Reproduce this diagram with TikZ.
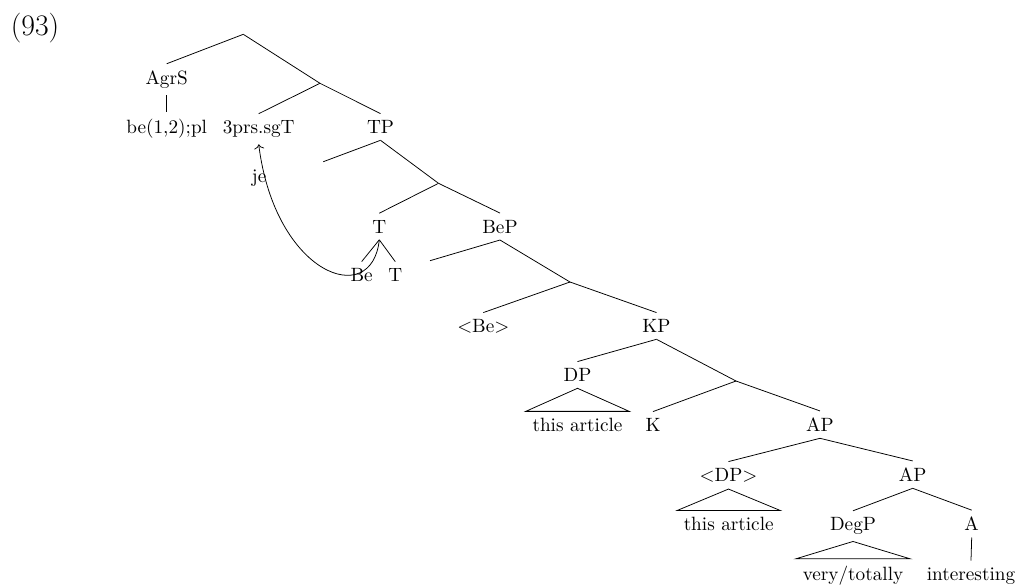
\documentclass[tikz,border=0pt]{standalone}
\usepackage{tikz}
\usetikzlibrary{arrows.meta}
\tikzset{
  lbl/.style={anchor=base},
  br/.style={line width=0.4pt},
  mv/.style={-{To},line width=0.4pt},
}

\begin{document}
\begin{tikzpicture}[x=0.52pt,y=-0.52pt]
\useasboundingbox (0,0) rectangle (1018,585);
\node (ex) at (35,28) {\fontsize{15.5}{18}\selectfont(93)};
% labelled nodes, placed at their baselines
\node[lbl] (agrs) at (166.7,84.3) {AgrS};
\node[lbl] (be) at (166.7,133.5) {be(1,2);pl};
\node[lbl] (sgt) at (258.7,133.5) {3prs.sgT};
\node[lbl] (tp) at (380.5,133.5) {TP};
\node[lbl] (t) at (379.3,233) {T};
\node[lbl] (bep) at (500,233) {BeP};
\node[lbl] (bee) at (361.7,281.5) {Be};
\node[lbl] (tt) at (395.3,281.5) {T};
\node[lbl] (hbe) at (483.3,332.5) {$<$Be$>$};
\node[lbl] (kp) at (656.5,332.5) {KP};
\node[lbl] (dp) at (577.5,381.5) {DP};
\node[lbl] (art1) at (577.5,431.5) {this article};
\node[lbl] (k) at (653,431.5) {K};
\node[lbl] (ap) at (820,431.5) {AP};
\node[lbl] (hdp) at (728.5,481.5) {$<$DP$>$};
\node[lbl] (ap2) at (912.7,481.5) {AP};
\node[lbl] (art2) at (728.7,530.7) {this article};
\node[lbl] (degp) at (853,530.7) {DegP};
\node[lbl] (a) at (971.7,530.7) {A};
\node[lbl] (vt) at (853,580) {very/totally};
\node[lbl] (int) at (971,580) {interesting};
% unlabelled points
\coordinate (r0) at (243.3,34.3);
\coordinate (c1) at (320,83.3);
\coordinate (c2) at (323.3,161.7);
\coordinate (c3) at (438.5,183.3);
\coordinate (c4) at (430,260.7);
\coordinate (c5) at (570,282);
\coordinate (c6) at (736,381);
% branches
\foreach \p/\c in {r0/agrs.north,r0/c1,agrs.south/be.north,c1/sgt.north,c1/tp.north,
  tp.south/c2,tp.south/c3,c3/t.north,c3/bep.north,t.south/bee.north,t.south/tt.north,
  bep.south/c4,bep.south/c5,c5/hbe.north,c5/kp.north,kp.south/dp.north,kp.south/c6,
  c6/k.north,c6/ap.north,ap.south/hdp.north,ap.south/ap2.north,ap2.south/degp.north,
  ap2.south/a.north,a.south/int.north}{\draw[br] (\p) -- (\c);}
% roofs
\foreach \p/\c in {dp/art1,hdp/art2,degp/vt}{\draw[br] (\p.south) -- (\c.north west) -- (\c.north east) -- cycle;}
% movement
\draw[mv] (t.south) .. controls (372,310) and (275,275) .. node[pos=0.9,xshift=-3.5pt,yshift=1.3pt]{je} (sgt.south);
\end{tikzpicture}
\end{document}
